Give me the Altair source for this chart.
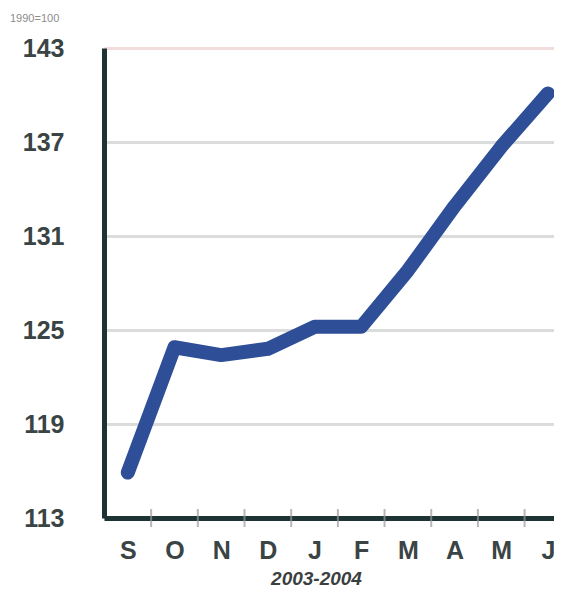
import altair as alt
import pandas as pd

months = ["S", "O", "N", "D", "J", "F", "M", "A", "M", "J"]
values = [115.9, 123.9, 123.4, 123.8, 125.2, 125.2, 128.8, 132.9, 136.7, 140.1]
y_ticks = [113, 119, 125, 131, 137, 143]
boundaries = [0.5, 1.5, 2.5, 3.5, 4.5, 5.5, 6.5, 7.5, 8.5]

df = pd.DataFrame({"pos": list(range(len(months))), "month": months, "value": values})
tick_df = pd.DataFrame({"pos": boundaries, "value": [113] * len(boundaries)})

FONT = "Liberation Sans Narrow, Liberation Sans, sans-serif"
label_js = "[" + ",".join("'" + m + "'" for m in months) + "]"

x_scale = alt.Scale(domain=[-0.51, 9.13], nice=False, zero=False)
y_scale = alt.Scale(domain=[113, 143], nice=False, zero=False)

x_axis = alt.Axis(
    values=list(range(len(months))),
    labelExpr=f"{label_js}[datum.value]",
    ticks=False,
    grid=False,
    domainColor="#1e3333",
    domainWidth=5,
    labelFont=FONT,
    labelFontSize=25,
    labelFontWeight="bold",
    labelColor="#3a4444",
    labelPadding=20,
    title="2003-2004",
    titleFont=FONT,
    titleFontSize=19,
    titleFontStyle="italic",
    titleFontWeight="bold",
    titleColor="#3a4040",
    titlePadding=6,
    titleX=212,
    titleAlign="center",
)

y_axis = alt.Axis(
    values=y_ticks,
    ticks=False,
    grid=True,
    gridColor={"condition": {"test": "datum.value == 143", "value": "#f3dcdc"}, "value": "#dadddc"},
    gridWidth=3,
    domainColor="#1e3333",
    domainWidth=5,
    labelFont=FONT,
    labelFontSize=25,
    labelFontWeight="bold",
    labelColor="#3a4444",
    labelPadding=40,
    title=None,
)

base = alt.Chart(df)

line = base.mark_line(
    color="#2f4e98", strokeWidth=14, strokeCap="round", strokeJoin="round"
).encode(
    x=alt.X("pos:Q", scale=x_scale, axis=x_axis),
    y=alt.Y("value:Q", scale=y_scale, axis=y_axis),
)

ticks = alt.Chart(tick_df).mark_tick(
    orient="vertical", color="#9a9a9a", thickness=2, size=18
).encode(
    x=alt.X("pos:Q", scale=x_scale),
    y=alt.Y("value:Q", scale=y_scale),
)

chart = (
    alt.layer(ticks, line)
    .properties(
        width=450,
        height=470,
        autosize=alt.AutoSizeParams(type="none"),
        padding={"left": 96, "top": 40, "right": 0, "bottom": 76},
        title=alt.TitleParams(
            "1990=100",
            anchor="start",
            frame="group",
            fontSize=11,
            font="Liberation Sans, sans-serif",
            fontWeight="normal",
            color="#8c8c8c",
            dx=-94,
            offset=12,
        ),
    )
    .configure_view(stroke=None)
    .configure(background="white")
)

chart.save("out.html", embed_options={"renderer": "svg", "actions": False})
